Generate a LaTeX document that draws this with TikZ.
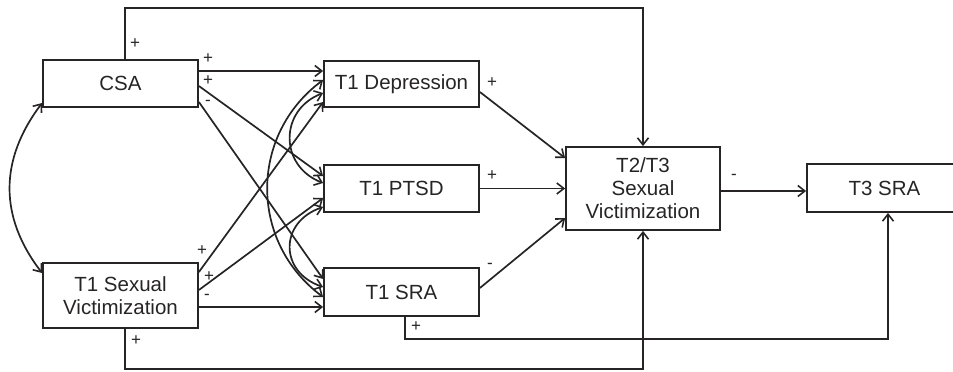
\documentclass[tikz,border=0pt]{standalone}
\usepackage{fontspec}
\setmainfont{Liberation Sans}
\usetikzlibrary{arrows.meta}
\definecolor{ink}{RGB}{38,36,36}
\begin{document}
\begin{tikzpicture}[x=1pt,y=-1pt,
  box/.style={draw=ink,line width=1.8pt,minimum width=155pt,inner sep=0pt,align=center,
     text=ink,font=\fontsize{20.5}{23}\selectfont},
  arr/.style={draw=ink,line width=1.7pt,-{Straight Barb[length=7pt,width=11pt,line width=1.6pt]}},
  darr/.style={draw=ink,line width=1.7pt,{Straight Barb[length=7pt,width=11pt,line width=1.6pt]}-{Straight Barb[length=7pt,width=11pt,line width=1.6pt]}},
  sgn/.style={text=ink,font=\fontsize{17}{17}\selectfont,inner sep=0pt}]
\useasboundingbox (0,0) rectangle (953,372);
\clip (0,0) rectangle (953,372);
\node[box,minimum height=47pt] (csa) at (120.5,83.5) {CSA};
\node[box,minimum height=65pt] (t1sv) at (120.5,295.5) {T1 Sexual\\Victimization};
\node[box,minimum height=46pt] (dep) at (401.5,84) {T1 Depression};
\node[box,minimum height=47pt] (ptsd) at (401.5,188.5) {T1 PTSD};
\node[box,minimum height=48pt] (sra) at (401.5,292) {T1 SRA};
\node[box,minimum width=154pt,minimum height=83pt] (t23) at (643,188.5) {T2/T3\\Sexual\\Victimization};
\node[box,minimum height=48pt] (t3) at (884.5,188) {T3 SRA};
% paths
\draw[arr] ([yshift=12.5pt]csa.east) -- ([yshift=12.5pt]csa.east -| dep.west);
\draw[arr] ([yshift=-2.5pt]csa.east) -- ([yshift=12.5pt]ptsd.west);
\draw[arr] ([yshift=-18.5pt]csa.east) -- ([yshift=13pt]sra.west);
\draw[arr] ([yshift=23.5pt]t1sv.east) -- ([yshift=-18pt]dep.west);
\draw[arr] ([yshift=5.5pt]t1sv.east) -- ([yshift=-9.5pt]ptsd.west);
\draw[arr] ([yshift=-11.5pt]t1sv.east) -- ([yshift=-11.5pt]t1sv.east -| sra.west);
\draw[arr] ([yshift=-8pt]dep.east) -- ([yshift=30.5pt]t23.west);
\draw[arr] (ptsd.east) -- (ptsd.east -| t23.west);
\draw[arr] ([yshift=4pt]sra.east) -- ([yshift=-29.5pt]t23.west);
\draw[arr] ([yshift=-2.5pt]t23.east) -- ([yshift=-2.5pt]t23.east -| t3.west);
\draw[arr] ([xshift=4.5pt]csa.north) -- ++(0,51pt) -| (t23.north);
\draw[arr] ([xshift=4.5pt]t1sv.south) -- ++(0,-40pt) -| (t23.south);
\draw[arr] ([xshift=3.5pt]sra.south) -- ++(0,-22pt) -| ([xshift=3.5pt]t3.south);
% covariances
\draw[darr] ([yshift=4pt]dep.west) .. controls +(-74pt,-55pt) and +(-74pt,55pt) .. ([yshift=-5pt]sra.west);
\draw[darr] ([yshift=-9pt]dep.west) .. controls +(-44pt,-17pt) and +(-44pt,17pt) .. ([yshift=5.5pt]ptsd.west);
\draw[darr] ([yshift=-18.5pt]ptsd.west) .. controls +(-44pt,-15pt) and +(-44pt,15pt) .. ([yshift=5pt]sra.west);
\draw[darr] ([yshift=-19.5pt]csa.west) .. controls +(-43pt,-57pt) and +(-43pt,56pt) .. ([yshift=22.5pt]t1sv.west);
% signs
\node[sgn] (s1) at (135,44) {+};
\node[sgn] (s2) at (208,59) {+};
\node[sgn] (s3) at (208,81) {+};
\node[sgn] (s4) at (208,103) {-};
\node[sgn] (s5) at (492,83) {+};
\node[sgn] (s6) at (492,176) {+};
\node[sgn] (s7) at (490,266) {-};
\node[sgn] (s8) at (202,251) {+};
\node[sgn] (s9) at (209,277) {+};
\node[sgn] (s10) at (207,297) {-};
\node[sgn] (s11) at (136,341) {+};
\node[sgn] (s12) at (416,327) {+};
\node[sgn] (s13) at (734,177) {-};
\end{tikzpicture}
\end{document}
